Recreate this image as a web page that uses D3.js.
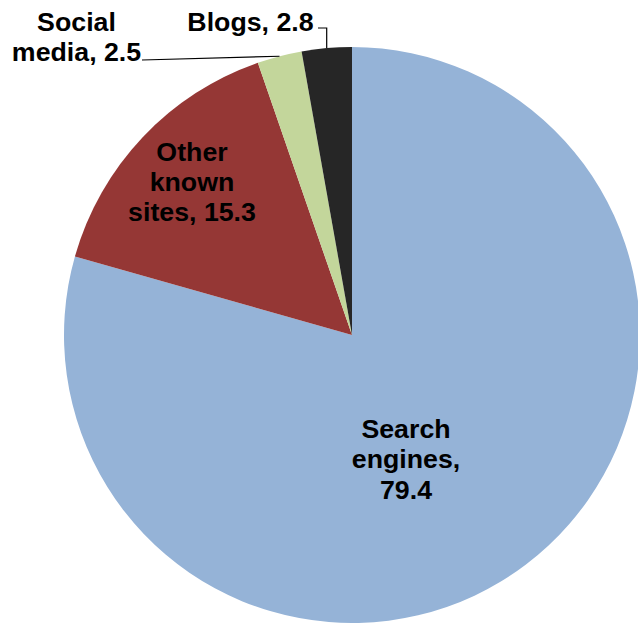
<!DOCTYPE html>
<html>
<head>
<meta charset="utf-8">
<script src="https://cdn.jsdelivr.net/npm/d3@7"></script>
<style>
  html, body { margin: 0; padding: 0; background: #fff; }
  svg { display: block; }
  text { font-family: "Liberation Sans", Arial, sans-serif; font-weight: bold; fill: #000; }
</style>
</head>
<body>
<svg id="chart" width="638" height="627"></svg>
<script>
// Data
const categories = ["Search engines", "Other known sites", "Social media", "Blogs"];
const values = [79.4, 15.3, 2.5, 2.8];
const colors = ["#95B3D7", "#953735", "#C3D69B", "#262626"];
const labelLines = [
  ["Search", "engines,", "79.4"],
  ["Other", "known", "sites, 15.3"],
  ["Social", "media, 2.5"],
  ["Blogs, 2.8"]
];

const W = 638, H = 627;
const cx = 352, cy = 335, R = 288;
const fontSize = 25, lineH = 30.5;

const svg = d3.select("#chart");
const g = svg.append("g").attr("transform", `translate(${cx},${cy})`);

const data = categories.map((c, i) => ({ name: c, value: values[i], color: colors[i], lines: labelLines[i] }));
const pie = d3.pie().sort(null).value(d => d.value).startAngle(0).endAngle(2 * Math.PI);
const arcs = pie(data);
const arc = d3.arc().innerRadius(0).outerRadius(R);

g.selectAll("path.slice").data(arcs).enter().append("path")
  .attr("class", "slice")
  .attr("d", arc)
  .attr("fill", d => d.data.color);

// Label positions (layout, relative to svg), first baseline, centered
const labelPos = [
  { x: 406, y: 438 },
  { x: 192, y: 160.5 },
  { x: 76.5, y: 30.5 },
  { x: 250.5, y: 30.5 }
];

const labels = svg.append("g");
arcs.forEach((a, i) => {
  const t = labels.append("text")
    .attr("text-anchor", "middle")
    .attr("font-size", fontSize)
    .attr("transform", `translate(${labelPos[i].x},${labelPos[i].y}) scale(1.07,1)`);
  a.data.lines.forEach((ln, j) => {
    t.append("tspan").attr("x", 0).attr("y", j * lineH).text(ln);
  });
});

// Leader lines
function edgePoint(a, r) {
  const ang = (a.startAngle + a.endAngle) / 2;
  return [cx + r * Math.sin(ang), cy - r * Math.cos(ang)];
}
const line = d3.line();
const pSocial = edgePoint(arcs[2], R);
const pBlogs = edgePoint(arcs[3], R);
svg.append("path")
  .attr("d", line([[142, 60], pSocial]))
  .attr("fill", "none").attr("stroke", "#000").attr("stroke-width", 1.2);
svg.append("path")
  .attr("d", line([[318, 28], [pBlogs[0], 28], pBlogs]))
  .attr("fill", "none").attr("stroke", "#000").attr("stroke-width", 1.2);
</script>
</body>
</html>
